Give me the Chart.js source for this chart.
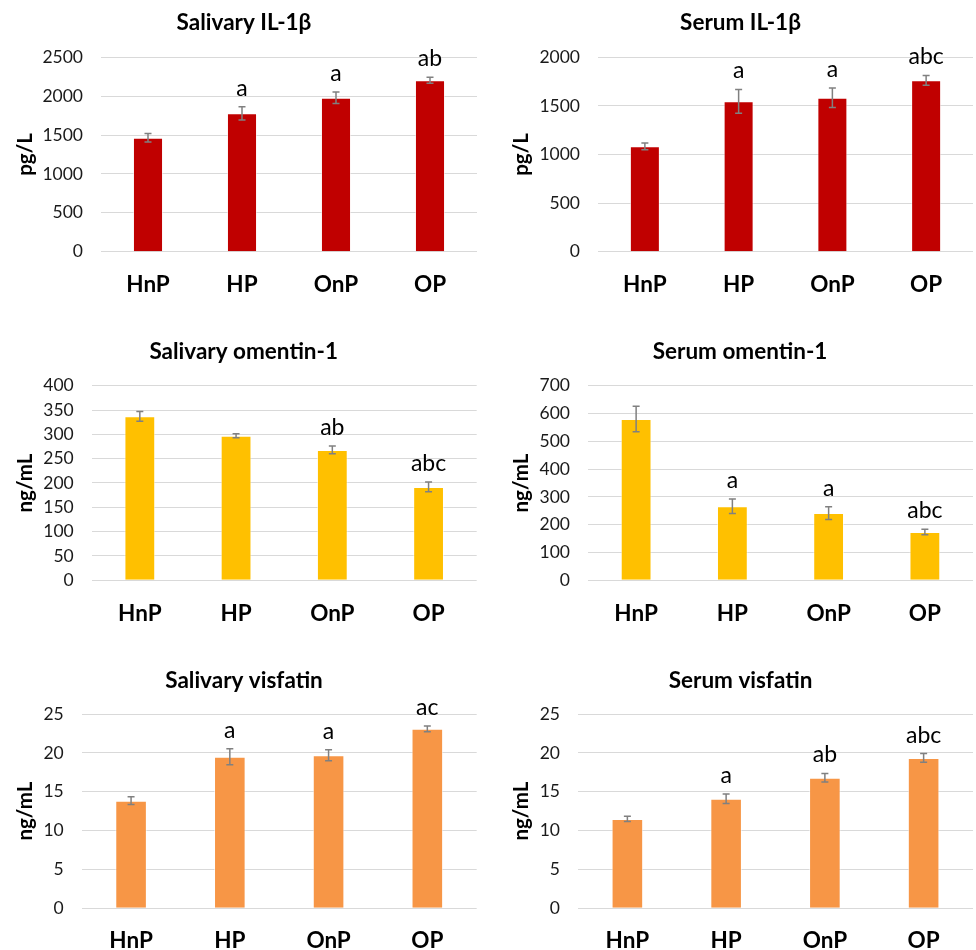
<!DOCTYPE html>
<html>
<head>
<meta charset="utf-8">
<script src="https://cdn.jsdelivr.net/npm/chart.js@4.4.1/dist/chart.umd.min.js"></script>
<style>
  html, body { margin: 0; padding: 0; background: #ffffff; }
  #wrap { position: relative; width: 976px; height: 950px; overflow: hidden; background: #fff; }
  .panel { position: absolute; }
</style>
</head>
<body>
<div id="wrap"></div>
<script>
// ---------- DATA ----------
const categories = ['HnP', 'HP', 'OnP', 'OP'];

const salivaryIL1b      = [1466, 1780, 1980, 2204];
const salivaryIL1bErr   = [55, 85, 75, 38];
const salivaryIL1bSig   = ['', 'a', 'a', 'ab'];

const serumIL1b         = [1084, 1547, 1584, 1763];
const serumIL1bErr      = [35, 123, 100, 51];
const serumIL1bSig      = ['', 'a', 'a', 'abc'];

const salivaryOmentin    = [337, 297, 268, 192];
const salivaryOmentinErr = [10, 4, 8, 10];
const salivaryOmentinSig = ['', '', 'ab', 'abc'];

const serumOmentin      = [580, 266, 242, 174];
const serumOmentinErr   = [46, 26, 23, 10];
const serumOmentinSig   = ['', 'a', 'a', 'abc'];

const salivaryVisfatin    = [13.85, 19.5, 19.7, 23.1];
const salivaryVisfatinErr = [0.5, 1.03, 0.7, 0.37];
const salivaryVisfatinSig = ['', 'a', 'a', 'ac'];

const serumVisfatin     = [11.5, 14.1, 16.8, 19.35];
const serumVisfatinErr  = [0.34, 0.6, 0.56, 0.56];
const serumVisfatinSig  = ['', 'a', 'ab', 'abc'];

const titles = ['Salivary IL-1β', 'Serum IL-1β', 'Salivary omentin-1', 'Serum omentin-1', 'Salivary visfatin', 'Serum visfatin'];
const units  = ['pg/L', 'pg/L', 'ng/mL', 'ng/mL', 'ng/mL', 'ng/mL'];
const yMax   = [2500, 2000, 400, 700, 25, 25];
const yStep  = [500, 500, 50, 100, 5, 5];

// ---------- STYLE / LAYOUT ----------
const RED = '#C00000', YELLOW = '#FFC000', ORANGE = '#F79646';
const FONT = 'Lato, "Open Sans", "Liberation Sans", sans-serif';
const TITLE_SIZE = 22.5, YTITLE_SIZE = 20.5, TICK_SIZE = 17.5, XLABEL_SIZE = 22.5, SIG_SIZE = 23;

const panels = [
  { values: salivaryIL1b, errs: salivaryIL1bErr, sig: salivaryIL1bSig, color: RED,
    left: 0, top: 0, w: 488, h: 300, plotL: 101, plotR: 477, plotT: 57.3, plotB: 251.7, tcx: 244, tcy: 23, ytx: 25, xly: 284 },
  { values: serumIL1b, errs: serumIL1bErr, sig: serumIL1bSig, color: RED,
    left: 488, top: 0, w: 488, h: 300, plotL: 598, plotR: 973, plotT: 57.3, plotB: 251.7, tcx: 740.5, tcy: 23, ytx: 521, xly: 284 },
  { values: salivaryOmentin, errs: salivaryOmentinErr, sig: salivaryOmentinSig, color: YELLOW,
    left: 0, top: 310, w: 488, h: 320, plotL: 91.7, plotR: 476.7, plotT: 385.7, plotB: 580.3, tcx: 243.7, tcy: 352, ytx: 25, xly: 612.7 },
  { values: serumOmentin, errs: serumOmentinErr, sig: serumOmentinSig, color: YELLOW,
    left: 488, top: 310, w: 488, h: 320, plotL: 588, plotR: 973, plotT: 385.7, plotB: 580.3, tcx: 740, tcy: 352, ytx: 521, xly: 612.7 },
  { values: salivaryVisfatin, errs: salivaryVisfatinErr, sig: salivaryVisfatinSig, color: ORANGE,
    left: 0, top: 640, w: 488, h: 310, plotL: 81.7, plotR: 476.7, plotT: 714, plotB: 908.3, tcx: 244, tcy: 681, ytx: 25, xly: 940 },
  { values: serumVisfatin, errs: serumVisfatinErr, sig: serumVisfatinSig, color: ORANGE,
    left: 488, top: 640, w: 488, h: 310, plotL: 578, plotR: 973, plotT: 714, plotB: 908.3, tcx: 740.5, tcy: 681, ytx: 521, xly: 940 }
];

// Error bars + significance letters, drawn through the chart's own scales
const errorBarPlugin = {
  id: 'errorBars',
  afterDatasetsDraw(chart, args, opts) {
    const ctx = chart.ctx;
    const y = chart.scales.y;
    const meta = chart.getDatasetMeta(0);
    const ds = chart.data.datasets[0];
    meta.data.forEach((bar, i) => {
      const v = ds.data[i], e = opts.errs[i];
      const yT = y.getPixelForValue(v + e);
      const yB = y.getPixelForValue(v - e);
      ctx.save();
      ctx.strokeStyle = '#808080';
      ctx.lineWidth = 1.5;
      ctx.beginPath();
      ctx.moveTo(bar.x, yT); ctx.lineTo(bar.x, yB);
      ctx.moveTo(bar.x - 3.5, yT); ctx.lineTo(bar.x + 3.5, yT);
      ctx.moveTo(bar.x - 3.5, yB); ctx.lineTo(bar.x + 3.5, yB);
      ctx.stroke();
      const s = opts.sig[i];
      if (s) {
        ctx.fillStyle = '#000000';
        ctx.font = SIG_SIZE + 'px ' + FONT;
        ctx.textAlign = 'center';
        ctx.textBaseline = 'alphabetic';
        ctx.fillText(s, bar.x, yT - 11);
      }
      ctx.restore();
    });
  }
};

const wrap = document.getElementById('wrap');
panels.forEach((p, idx) => {
  const div = document.createElement('div');
  div.className = 'panel';
  div.style.left = p.left + 'px';
  div.style.top = p.top + 'px';
  div.style.width = p.w + 'px';
  div.style.height = p.h + 'px';
  const canvas = document.createElement('canvas');
  canvas.width = p.w; canvas.height = p.h;
  canvas.style.width = p.w + 'px'; canvas.style.height = p.h + 'px';
  div.appendChild(canvas);
  wrap.appendChild(div);

  const pr = p.left + p.w - p.plotR;
  const pl = 2 * (p.tcx - p.left) - p.w + pr;
  const yWidth = (p.plotL - p.left) - pl;
  const xHeight = (p.top + p.h) - p.plotB;
  const tlh = TITLE_SIZE * 1.2;
  const tPadTop = (p.tcy - p.top) - tlh / 2;
  const tPadBottom = (p.plotT - p.top) - tPadTop - tlh;
  const ylh = YTITLE_SIZE * 1.2;
  const yTitlePad = (p.ytx - p.left) - pl - ylh / 2;
  const xTickPad = (p.xly - p.plotB) - XLABEL_SIZE * 0.93;

  new Chart(canvas, {
    type: 'bar',
    data: {
      labels: categories,
      datasets: [{
        data: p.values,
        backgroundColor: p.color,
        borderColor: 'rgba(255,255,255,0.55)',
        borderWidth: 1,
        borderSkipped: 'bottom',
        categoryPercentage: 1.0,
        barPercentage: 0.32
      }]
    },
    options: {
      responsive: false,
      animation: false,
      devicePixelRatio: 1,
      layout: { padding: { left: pl, right: pr, top: 0, bottom: 0 } },
      plugins: {
        legend: { display: false },
        tooltip: { enabled: false },
        title: {
          display: true,
          text: titles[idx],
          color: '#000000',
          font: { family: FONT, size: TITLE_SIZE, weight: 'bold', lineHeight: 1.2 },
          padding: { top: tPadTop, bottom: tPadBottom }
        },
        errorBars: { errs: p.errs, sig: p.sig }
      },
      scales: {
        x: {
          grid: { display: false },
          border: { display: false },
          ticks: {
            color: '#000000',
            font: { family: FONT, size: XLABEL_SIZE, weight: 'bold' },
            padding: xTickPad,
            maxRotation: 0
          },
          afterFit(scale) { scale.height = xHeight; }
        },
        y: {
          min: 0,
          max: yMax[idx],
          ticks: {
            stepSize: yStep[idx],
            color: '#1a1a1a',
            font: { family: FONT, size: TICK_SIZE },
            padding: 18,
            callback: (v) => String(v)
          },
          grid: { color: '#d9d9d9', lineWidth: 1, drawTicks: false },
          border: { display: false },
          title: {
            display: true,
            text: units[idx],
            color: '#000000',
            font: { family: FONT, size: YTITLE_SIZE, weight: 'bold', lineHeight: 1.2 },
            padding: { top: yTitlePad, bottom: 0 }
          },
          afterFit(scale) { scale.width = yWidth; }
        }
      }
    },
    plugins: [errorBarPlugin]
  });
});
</script>
</body>
</html>
